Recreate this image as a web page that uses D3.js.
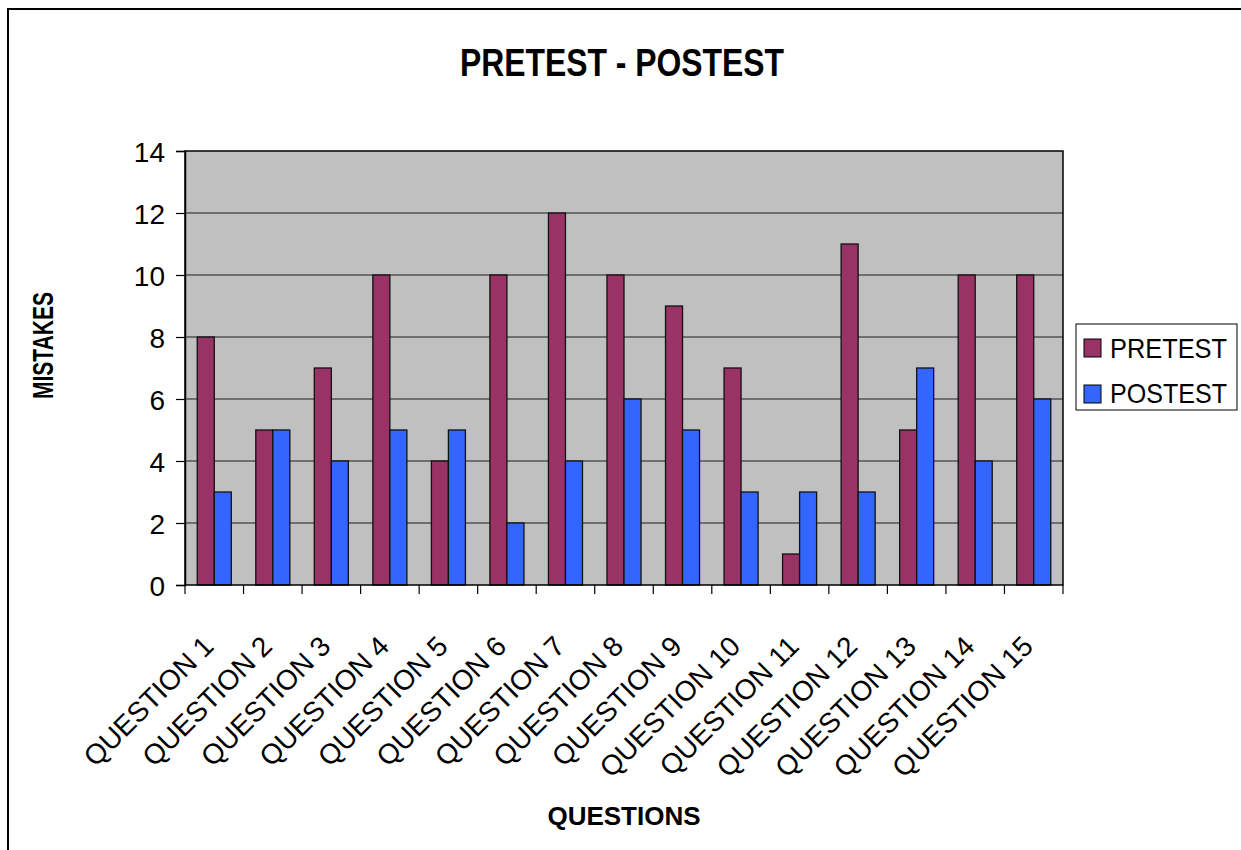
<!DOCTYPE html>
<html><head><meta charset="utf-8">
<script src="https://cdn.jsdelivr.net/npm/d3@7"></script>
<style>
html,body{margin:0;padding:0;background:#fff;}
text{font-family:"Liberation Sans",Arial,sans-serif;fill:#000;}
</style></head>
<body>
<script>
const categories = ["QUESTION 1","QUESTION 2","QUESTION 3","QUESTION 4","QUESTION 5","QUESTION 6","QUESTION 7","QUESTION 8","QUESTION 9","QUESTION 10","QUESTION 11","QUESTION 12","QUESTION 13","QUESTION 14","QUESTION 15"];
const seriesNames = ["PRETEST","POSTEST"];
const pretest = [8,5,7,10,4,10,12,10,9,7,1,11,5,10,10];
const postest = [3,5,4,5,5,2,4,6,5,3,3,3,7,4,6];
const yTicks = [0,2,4,6,8,10,12,14];
const colors = ["#993366","#3366FF"];

const W = 1241, H = 850;
const plot = {left:185, right:1063, top:151, bottom:585};

const svg = d3.select("body").append("svg").attr("width",W).attr("height",H);

// outer frame
svg.append("rect").attr("x",8).attr("y",9).attr("width",1400).attr("height",1000)
  .attr("fill","none").attr("stroke","#000").attr("stroke-width",2);

const x = d3.scaleBand().domain(categories).range([plot.left, plot.right]).padding(0);
const x1 = d3.scaleBand().domain(seriesNames).range([0, x.bandwidth()]).paddingInner(0).paddingOuter(0.72);
const y = d3.scaleLinear().domain([0,14]).range([plot.bottom, plot.top]);

// plot background
svg.append("rect").attr("x",plot.left).attr("y",plot.top)
  .attr("width",plot.right-plot.left).attr("height",plot.bottom-plot.top)
  .attr("fill","#C0C0C0");

// gridlines
svg.append("g").selectAll("line").data(yTicks.filter(d=>d>0 && d<14)).join("line")
  .attr("x1",plot.left).attr("x2",plot.right)
  .attr("y1",d=>y(d)).attr("y2",d=>y(d))
  .attr("stroke","#555").attr("stroke-width",1.5);

// bars
const series = [pretest, postest];
const g = svg.append("g");
categories.forEach((c,i)=>{
  seriesNames.forEach((s,j)=>{
    g.append("rect")
      .attr("x", x(c)+x1(s))
      .attr("y", y(series[j][i]))
      .attr("width", x1.bandwidth())
      .attr("height", y(0)-y(series[j][i]))
      .attr("fill", colors[j])
      .attr("stroke","#111").attr("stroke-width",1.3);
  });
});

// plot border
svg.append("rect").attr("x",plot.left).attr("y",plot.top)
  .attr("width",plot.right-plot.left).attr("height",plot.bottom-plot.top)
  .attr("fill","none").attr("stroke","#000").attr("stroke-width",1.5);

// y axis
const yAxis = d3.axisLeft(y).tickValues(yTicks).tickSize(9).tickPadding(11).tickFormat(d3.format("d"));
const ya = svg.append("g").attr("transform",`translate(${plot.left},0)`).call(yAxis);
ya.select(".domain").attr("stroke","#000").attr("stroke-width",1.5);
ya.selectAll(".tick line").attr("stroke","#000").attr("stroke-width",1.2);
ya.selectAll("text").attr("font-size",28).attr("font-family","Liberation Sans, Arial, sans-serif").attr("fill","#000").attr("dy","0.36em");

// x axis: boundary ticks
const bounds = categories.map(c=>x(c)).concat([plot.right]);
svg.append("g").selectAll("line").data(bounds).join("line")
  .attr("x1",d=>d).attr("x2",d=>d).attr("y1",plot.bottom).attr("y2",plot.bottom+9)
  .attr("stroke","#000").attr("stroke-width",1.2);

// x labels via axis
const xAxis = d3.axisBottom(x).tickSize(0).tickPadding(0);
const xa = svg.append("g").attr("transform",`translate(0,${plot.bottom})`).call(xAxis);
xa.select(".domain").remove();
xa.selectAll(".tick text")
  .attr("font-size",28).attr("font-family","Liberation Sans, Arial, sans-serif").attr("fill","#000")
  .attr("text-anchor","end").attr("dy",0).attr("y",0)
  .attr("transform","translate(1,63) rotate(-45)");

// title
svg.append("text").attr("x",622).attr("y",76).attr("text-anchor","middle")
  .attr("font-size",38).attr("font-weight","bold").attr("textLength",324).attr("lengthAdjust","spacingAndGlyphs")
  .text("PRETEST - POSTEST");

// x axis title
svg.append("text").attr("x",624).attr("y",825).attr("text-anchor","middle")
  .attr("font-size",26).attr("font-weight","bold")
  .text("QUESTIONS");

// y axis title
svg.append("text").attr("transform","translate(53,345.5) rotate(-90)").attr("text-anchor","middle")
  .attr("font-size",30).attr("font-weight","bold").attr("textLength",107).attr("lengthAdjust","spacingAndGlyphs")
  .text("MISTAKES");

// legend
const lg = svg.append("g");
lg.append("rect").attr("x",1076).attr("y",324).attr("width",161).attr("height",86)
  .attr("fill","#fff").attr("stroke","#000").attr("stroke-width",1);
seriesNames.forEach((s,j)=>{
  lg.append("rect").attr("x",1084).attr("y",339+j*46).attr("width",17).attr("height",18)
    .attr("fill",colors[j]).attr("stroke","#000").attr("stroke-width",1);
  lg.append("text").attr("x",1110).attr("y",357.5+j*45.5).attr("font-size",28)
    .attr("textLength",117).attr("lengthAdjust","spacingAndGlyphs").text(s);
});
</script>
</body></html>
